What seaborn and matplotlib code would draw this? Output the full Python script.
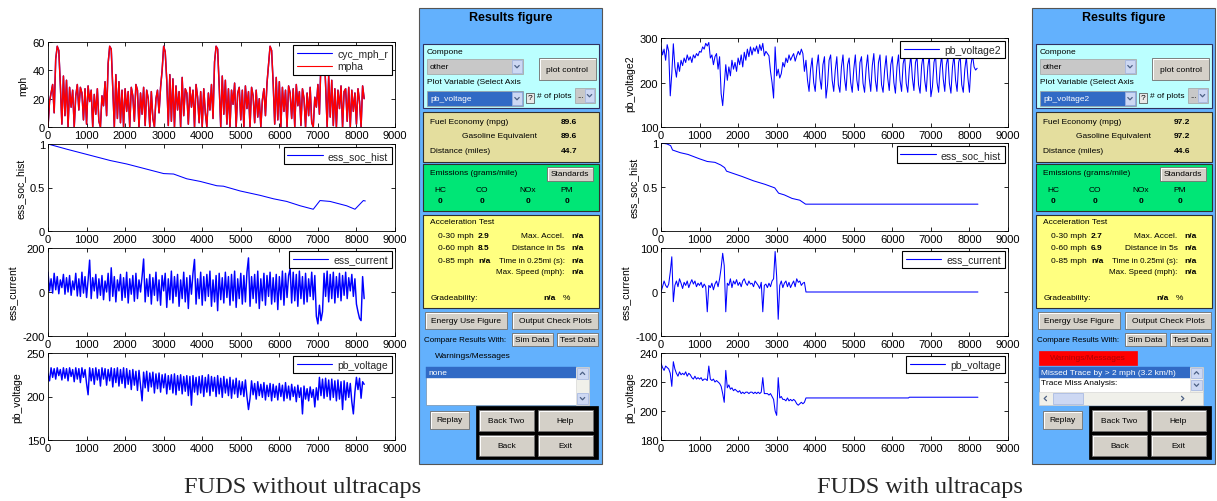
import numpy as np
import matplotlib
matplotlib.use("Agg")
import matplotlib.pyplot as plt
import seaborn as sns
from matplotlib.patches import Rectangle
from matplotlib.ticker import FuncFormatter

sns.set_theme(style="white")
plt.rcParams['font.family'] = ['Liberation Sans', 'DejaVu Sans']

# ---------------- data ----------------
time_40s = np.arange(0, 8201, 40)

mph_left = [
    0, 18, 24, 30, 10, 48, 57, 54, 30, 2, 36, 8, 33, 0, 28, 14, 26, 0, 22, 30, 12, 28, 24, 5, 27, 2, 29, 18, 26, 0, 23, 9, 27, 4,
    0, 22, 15, 32, 8, 45, 57, 55, 28, 0, 37, 6, 32, 3, 26, 0, 27, 11, 25, 0, 28, 22, 4, 30, 26, 0, 24, 9, 28, 1, 26, 20, 0, 25, 6,
    0, 20, 26, 10, 28, 40, 57, 53, 33, 1, 37, 4, 34, 0, 29, 12, 25, 0, 35, 8, 27, 24, 2, 28, 14, 26, 0, 30, 21, 3, 25, 0, 27, 10,
    0, 24, 12, 30, 6, 46, 57, 55, 29, 0, 36, 9, 33, 2, 27, 0, 26, 16, 31, 0, 24, 28, 5, 26, 0, 29, 13, 25, 0, 28, 22, 3, 26, 7, 20,
    0, 19, 27, 8, 31, 44, 57, 54, 31, 2, 35, 5, 32, 0, 28, 11, 26, 0, 29, 24, 6, 27, 0, 30, 15, 25, 1, 27, 20, 0, 24, 8, 28, 3,
    0, 21, 14, 30, 9, 47, 57, 55, 30, 0, 36, 7, 33, 1, 27, 0, 26, 13, 29, 0, 25, 27, 4, 28, 0, 26, 11, 24, 2, 27, 18, 0, 29, 20,
]

soc_left_t = [0, 490, 1010, 1615, 2045, 2480, 3000, 3256, 3600, 3947, 4380, 4550, 4985, 5500, 5850,
              6190, 6540, 6880, 7055, 7314, 7745, 7962, 8092, 8179, 8230]
soc_left = [1.0, 0.94, 0.88, 0.81, 0.77, 0.72, 0.66, 0.655, 0.60, 0.57, 0.52, 0.515, 0.46, 0.41, 0.37,
            0.34, 0.29, 0.25, 0.35, 0.34, 0.29, 0.25, 0.31, 0.35, 0.345]

current_left = [
    90, 5, 60, -5, 85, 10, 70, -8, 55, 20,
    80, -10, 65, 0, 75, -15, 50, 10, 85, -18,
    60, -20, 90, -5, 70, -25, 55, 145, -30, 65,
    5, 80, -28, 60, -15, 75, -35, 50, 0, 85,
    -40, 110, -20, 70, -45, 55, 5, 80, -38, 65,
    -25, 90, -50, 60, -10, 75, -42, 85, -30, 55,
    0, 70, 150, -45, 60, -20, 80, -55, 65, -15,
    90, -40, 55, -60, 75, 5, 85, -70, 60, -35,
    95, -50, 70, -20, 80, -65, 55, -30, 90, -45,
    65, -75, 75, -10, 85, 148, -55, 60, -30, 90,
    -60, 70, -40, 80, -20, 95, -65, 55, -45, 75,
    -85, 85, -35, 65, -50, 90, -25, 70, -60, 80,
    -40, 95, -70, 60, -30, 85, -55, 75, -45, 90,
    155, -65, 70, -30, 80, -50, 95, -75, 60, -40,
    85, -60, 75, -20, 90, -55, 65, -45, 80, -80,
    70, -35, 95, -60, 85, -25, 75, 105, -50, 90,
    -40, 80, -65, 95, -30, 70, -55, 85, -45, 60,
    -20, 90, -35, 75, -110, -145, -60, -130, -90, 85,
    -20, 95, -45, 80, -30, 90, -50, 70, -25, 85,
    -40, 75, -15, 90, -30, 65, 5, 80, -20, 60,
    -55, -90, -120, -130, 70, -30,
]

voltage_left = [
    226, 218, 233, 222, 232, 220, 233, 224, 231, 219,
    233, 221, 232, 218, 233, 223, 231, 217, 233, 220,
    232, 216, 233, 222, 231, 215, 202, 233, 218, 232,
    214, 233, 219, 231, 212, 233, 220, 232, 213, 231,
    218, 233, 211, 232, 216, 233, 212, 231, 215, 233,
    210, 232, 214, 230, 208, 231, 213, 229, 207, 230,
    212, 195, 228, 210, 229, 206, 227, 211, 228, 204,
    226, 209, 227, 205, 225, 210, 226, 203, 224, 208,
    225, 204, 226, 202, 224, 207, 225, 203, 223, 206,
    224, 201, 223, 190, 224, 205, 222, 202, 223, 204,
    224, 200, 222, 205, 225, 201, 223, 206, 222, 200,
    224, 203, 221, 199, 223, 204, 220, 201, 222, 198,
    219, 203, 221, 199, 218, 202, 217, 200, 219, 200,
    185, 198, 218, 202, 215, 197, 217, 201, 214, 199,
    216, 196, 213, 200, 215, 195, 214, 199, 212, 196,
    215, 200, 213, 195, 216, 198, 212, 196, 214, 200,
    211, 194, 213, 199, 210, 180, 212, 197, 209, 195,
    211, 199, 208, 188, 210, 196, 222, 201, 220, 198,
    221, 200, 219, 196, 220, 199, 218, 195, 219, 197,
    217, 185, 218, 196, 216, 199, 215, 194, 180, 205,
    222, 208, 221, 198, 217, 214,
]

voltage2_right = [
    282, 262, 275, 250, 285, 270, 170, 220, 287, 235,
    212, 245, 225, 250, 238, 255, 245, 262, 250, 258,
    245, 262, 255, 265, 260, 270, 268, 280, 275, 288,
    282, 290, 255, 262, 240, 258, 265, 230, 258, 175,
    148, 195, 240, 205, 235, 215, 250, 230, 245, 225,
    255, 240, 262, 235, 268, 250, 275, 258, 280, 262,
    278, 270, 282, 265, 285, 272, 288, 260, 270, 265,
    260, 225, 200, 165, 280, 215, 230, 210, 220, 245,
    235, 255, 245, 262, 250, 258, 265, 248, 260, 270,
    262, 275, 265, 225, 250, 205, 180, 230, 255, 200,
    180, 235, 262, 210, 185, 240, 258, 165, 195, 250,
    262, 205, 180, 228, 258, 195, 178, 235, 262, 210,
    182, 240, 255, 200, 178, 230, 262, 205, 182, 245,
    258, 198, 178, 232, 262, 210, 180, 238, 265, 205,
    180, 245, 262, 195, 178, 228, 260, 210, 182, 240,
    258, 200, 176, 235, 262, 205, 180, 242, 260, 198,
    178, 230, 262, 210, 182, 245, 258, 195, 176, 238,
    262, 205, 180, 235, 260, 168, 190, 245, 262, 200,
    178, 232, 262, 208, 180, 240, 258, 198, 176, 235,
    262, 205, 180, 245, 260, 195, 178, 230, 258, 210,
    178, 240, 262, 235, 228, 232,
]

soc_right_t = [0, 150, 250, 300, 500, 700, 1000, 1200, 1400, 1550, 1650, 1700, 1900, 2100,
               2400, 2700, 2950, 3050, 3200, 3400, 3600, 3750, 8220]
soc_right = [1.0, 0.99, 0.97, 0.92, 0.89, 0.87, 0.82, 0.79, 0.78, 0.75, 0.72, 0.68, 0.65, 0.62,
             0.57, 0.53, 0.49, 0.43, 0.41, 0.37, 0.35, 0.305, 0.305]

current_right_t = list(np.arange(0, 3761, 40)) + [8220]
current_right = [
    0, 12, 25, 15, 10, 18, 45, 80, -22, 15,
    25, 12, 30, 20, 8, 22, 15, 25, 10, 20,
    28, 18, 25, 12, 20, 15, 22, 10, 18, 12,
    -45, 15, 10, 20, 5, 18, 25, 12, 30, 55,
    88, 60, -45, 20, 15, 30, 10, 25, 18, 28,
    15, 22, 12, 25, 30, 20, 15, 25, 18, 20,
    12, 25, 20, 15, 8, 22, -45, 15, 18, 10,
    20, 12, 25, 30, 92, 35, -62, 15, 25, 10,
    20, 25, 12, 22, 10, 18, 25, 12, 30, 22,
    25, 15, 20, 22, 0,
    0,
]

voltage_right_t = list(np.arange(0, 3761, 40)) + [6420, 6440, 8220]
voltage_right = [
    233, 230, 228, 231, 230, 229, 226, 217, 234, 229,
    226, 224, 227, 225, 226, 225, 227, 224, 226, 225,
    223, 222, 224, 222, 223, 222, 223, 221, 222, 222,
    221, 231, 222, 221, 222, 220, 221, 220, 219, 217,
    212, 206, 228, 216, 218, 215, 216, 214, 215, 214,
    213, 214, 212, 213, 212, 213, 213, 212, 213, 213,
    212, 213, 212, 213, 212, 213, 223, 212, 212, 212,
    211, 212, 210, 208, 200, 197, 223, 209, 210, 208,
    208, 207, 209, 207, 208, 207, 208, 207, 205, 204,
    205, 206, 205, 206, 209,
    209, 209.5, 209.5,
]

# ---------------- figure ----------------
W, H = 1217, 502
fig = plt.figure(figsize=(W / 100, H / 100), dpi=100)
fig.patch.set_facecolor('white')

gui = fig.add_axes([0, 0, 1, 1])
gui.set_xlim(0, W)
gui.set_ylim(H, 0)
gui.axis('off')


def px_axes(x0, y0, x1, y1):
    return fig.add_axes([x0 / W, 1 - y1 / H, (x1 - x0) / W, (y1 - y0) / H])


fmt = FuncFormatter(lambda v, p: f'{v:g}')


def style(ax, ylim, yticks, ylabel):
    ax.set_facecolor('white')
    ax.set_xlim(0, 9000)
    ax.set_xticks(range(0, 9001, 1000))
    ax.set_ylim(*ylim)
    ax.set_yticks(yticks)
    ax.yaxis.set_major_formatter(fmt)
    ax.tick_params(direction='in', length=3, width=0.6, top=True, right=True,
                   labeltop=False, labelright=False, labelsize=8, pad=2,
                   colors='black', bottom=True, left=True)
    ax.set_xlabel('')
    ax.set_ylabel(ylabel, fontsize=7.5, labelpad=3, color='black')
    for s in ax.spines.values():
        s.set_visible(True)
        s.set_color('black')
        s.set_linewidth(0.6)


def legend(ax):
    leg = ax.legend(loc='upper right', fontsize=7.5, frameon=True, fancybox=False,
                    edgecolor='black', framealpha=1, handlelength=3.4,
                    borderpad=0.35, borderaxespad=0.3, labelspacing=0.25, handletextpad=0.5)
    leg.get_frame().set_linewidth(0.8)
    for line in leg.get_lines():
        line.set_linewidth(0.8)


BLUE, RED = '#0000ff', '#ff0000'
LW = 0.75
LWD = 1.05  # dense traces

# ---- left column ----
lx0, lx1 = 48, 395
ax = px_axes(lx0, 43, lx1, 128)
sns.lineplot(x=time_40s, y=mph_left, ax=ax, color=BLUE, lw=LWD, label='cyc_mph_r')
sns.lineplot(x=time_40s, y=mph_left, ax=ax, color=RED, lw=LWD, label='mpha')
style(ax, (0, 60), [0, 20, 40, 60], 'mph')
legend(ax)

ax = px_axes(lx0, 145, lx1, 232)
sns.lineplot(x=soc_left_t, y=soc_left, ax=ax, color=BLUE, lw=LW, label='ess_soc_hist')
style(ax, (0, 1), [0, 0.5, 1], 'ess_soc_hist')
legend(ax)

ax = px_axes(lx0, 249, lx1, 337)
sns.lineplot(x=time_40s, y=current_left, ax=ax, color=BLUE, lw=LWD, label='ess_current')
style(ax, (-200, 200), [-200, 0, 200], 'ess_current')
legend(ax)

ax = px_axes(lx0, 354, lx1, 441)
sns.lineplot(x=time_40s, y=voltage_left, ax=ax, color=BLUE, lw=LWD, label='pb_voltage')
style(ax, (150, 250), [150, 200, 250], 'pb_voltage')
legend(ax)

# ---- right column ----
rx0, rx1 = 661, 1008
ax = px_axes(rx0, 39, rx1, 128)
sns.lineplot(x=time_40s, y=voltage2_right, ax=ax, color=BLUE, lw=LW, label='pb_voltage2')
style(ax, (100, 300), [100, 200, 300], 'pb_voltage2')
legend(ax)

ax = px_axes(rx0, 144, rx1, 232)
sns.lineplot(x=soc_right_t, y=soc_right, ax=ax, color=BLUE, lw=LW, label='ess_soc_hist')
style(ax, (0, 1), [0, 0.5, 1], 'ess_soc_hist')
legend(ax)

ax = px_axes(rx0, 249, rx1, 337)
sns.lineplot(x=current_right_t, y=current_right, ax=ax, color=BLUE, lw=LW, label='ess_current')
style(ax, (-100, 100), [-100, 0, 100], 'ess_current')
legend(ax)

ax = px_axes(rx0, 354, rx1, 441)
sns.lineplot(x=voltage_right_t, y=voltage_right, ax=ax, color=BLUE, lw=LW, label='pb_voltage')
style(ax, (180, 240), [180, 200, 220, 240], 'pb_voltage')
legend(ax)

# ---------------- GUI panels ----------------
FS = 6.0
SEL = '#316ac5'


def draw_panel(dx, var_name, fe, ge, dist, t30, t60, right_variant):
    def R(x, y, w, h, fc, ec='#404040', lw=0.6, z=2):
        gui.add_patch(Rectangle((x + dx, y), w, h, facecolor=fc, edgecolor=ec, linewidth=lw, zorder=z))

    def T(x, y, s, ha='left', bold=False, color='black', fs=FS, z=6):
        gui.text(x + dx, y, s, ha=ha, va='center', fontsize=fs, color=color,
                 fontweight='bold' if bold else 'normal', zorder=z)

    def button(x, y, w, h, label):
        R(x, y, w, h, '#d4d0c8', ec='#707070', lw=0.6, z=3)
        gui.plot([x + dx + 0.8, x + dx + 0.8, x + dx + w - 0.8], [y + h - 0.8, y + 0.8, y + 0.8],
                 color='white', lw=0.7, zorder=4)
        T(x + w / 2, y + h / 2, label, ha='center')

    def arrow(x, y, w, h, direction='down'):
        R(x, y, w, h, '#cdd8f3', ec='#9fb3e0', lw=0.5, z=4)
        cx, cy = x + dx + w / 2, y + h / 2
        if direction == 'down':
            gui.plot([cx - 2.2, cx, cx + 2.2], [cy - 1.0, cy + 1.3, cy - 1.0], color='#4d6185', lw=0.9, zorder=5)
        elif direction == 'up':
            gui.plot([cx - 2.2, cx, cx + 2.2], [cy + 1.0, cy - 1.3, cy + 1.0], color='#4d6185', lw=0.9, zorder=5)
        elif direction == 'left':
            gui.plot([cx + 1.0, cx - 1.3, cx + 1.0], [cy - 2.2, cy, cy + 2.2], color='#4d6185', lw=0.9, zorder=5)
        else:
            gui.plot([cx - 1.0, cx + 1.3, cx - 1.0], [cy - 2.2, cy, cy + 2.2], color='#4d6185', lw=0.9, zorder=5)

    # outer panel
    R(419, 9, 183, 456, '#63b1fd', ec='#555555', lw=0.8, z=1)
    T(511, 18, 'Results figure', ha='center', bold=True, fs=9)

    # plot selection box
    R(423, 45, 176, 64, '#bbffff', ec='#303060', lw=0.8)
    T(427, 53, 'Compone')
    R(427, 60, 96, 15, '#c8c8c8', ec='#a0a0a0', lw=0.5, z=3)
    T(430, 67.5, 'other')
    arrow(512, 61, 10, 13)
    button(539, 59, 57, 22, 'plot control')
    T(427, 83, 'Plot Variable (Select Axis')
    R(427, 92, 96, 15, SEL, ec='#a0a0a0', lw=0.5, z=3)
    T(430, 99.5, var_name, color='white')
    arrow(512, 93, 10, 13)
    R(526, 94, 8, 10, '#e8e8e8', ec='#404040', lw=0.5, z=3)
    T(530, 99, '?', ha='center', fs=6)
    T(537, 96, '# of plots')
    R(575, 89, 20, 15, '#c8c8c8', ec='#a0a0a0', lw=0.5, z=3)
    T(577, 97, '...', fs=5.5)
    arrow(585, 90, 9, 13)

    # fuel economy box
    R(423, 113, 176, 50, '#e4de9e', ec='#303030', lw=0.8)
    T(430, 122, 'Fuel Economy (mpg)')
    T(569, 122, fe, ha='center', bold=True)
    T(500, 137, 'Gasoline Equivalent', ha='center')
    T(569, 137, ge, ha='center', bold=True)
    T(430, 152, 'Distance (miles)')
    T(569, 152, dist, ha='center', bold=True)

    # emissions box
    R(423, 165, 176, 47, '#00e676', ec='#303030', lw=0.8)
    T(430, 174, 'Emissions (grams/mile)')
    button(547, 168, 46, 14, 'Standards')
    for xc, lab in zip([440, 482, 528, 567], ['HC', 'CO', 'NOx', 'PM']):
        T(xc, 191, lab, ha='center')
        T(xc, 202, '0', ha='center', bold=True)

    # acceleration box
    R(423, 216, 176, 93, '#ffff80', ec='#303030', lw=0.8)
    T(430, 223, 'Acceleration Test')
    T(438, 237, '0-30 mph')
    T(478, 237, t30, bold=True)
    T(521, 237, 'Max. Accel.')
    T(571, 237, 'n/a', bold=True)
    T(438, 249, '0-60 mph')
    T(478, 249, t60, bold=True)
    T(512, 249, 'Distance in 5s')
    T(571, 249, 'n/a', bold=True)
    T(438, 262, '0-85 mph')
    T(478, 262, 'n/a', bold=True)
    T(499, 262, 'Time in 0.25mi (s):', fs=5.8)
    T(571, 262, 'n/a', bold=True)
    T(496, 273, 'Max. Speed (mph):', fs=5.8)
    T(571, 273, 'n/a', bold=True)
    T(431, 299, 'Gradeability:')
    T(543, 299, 'n/a', bold=True)
    T(563, 299, '%')

    button(425, 313, 82, 17, 'Energy Use Figure')
    button(512, 313, 86, 17, 'Output Check Plots')
    T(424, 341, 'Compare Results With:', fs=5.8)
    button(512, 334, 41, 13, 'Sim Data')
    button(557, 334, 41, 13, 'Test Data')

    if not right_variant:
        T(435, 357, 'Warnings/Messages')
        R(426, 368, 163, 38, 'white', ec='#7f9db9', lw=0.6, z=3)
        R(426, 368, 150, 11, SEL, ec=SEL, lw=0.3, z=4)
        T(428, 373.5, 'none', color='white')
        R(576, 368, 13, 38, '#f0f0ea', ec='#d0d0d0', lw=0.4, z=4)
        arrow(577, 369, 11, 11, 'up')
        arrow(577, 394, 11, 11, 'down')
    else:
        R(426, 352, 98, 14, '#ff0000', ec='#ff0000', lw=0.5, z=3)
        T(475, 359, 'Warnings/Messages', ha='center', color='#b00000')
        R(426, 368, 164, 38, 'white', ec='#7f9db9', lw=0.6, z=3)
        R(426, 368, 151, 11, SEL, ec=SEL, lw=0.3, z=4)
        T(428, 373.5, 'Missed Trace by > 2 mph (3.2 km/h)', color='white')
        T(428, 384, 'Trace Miss Analysis:')
        R(577, 368, 13, 25, '#f0f0ea', ec='#d0d0d0', lw=0.4, z=4)
        arrow(578, 369, 11, 10, 'up')
        arrow(578, 381, 11, 10, 'down')
        R(426, 393, 164, 13, '#f0f0ea', ec='#d0d0d0', lw=0.4, z=5)
        arrow(427, 394, 11, 11, 'left')
        arrow(564, 394, 11, 11, 'right')
        R(440, 394, 30, 11, '#cdd8f3', ec='#9fb3e0', lw=0.5, z=6)

    button(430, 412, 39, 18, 'Replay')
    R(476, 407, 122, 53, 'black', ec='black', lw=0.5, z=2)
    button(479, 411, 55, 21, 'Back Two')
    button(538, 411, 55, 21, 'Help')
    button(479, 436, 55, 21, 'Back')
    button(538, 436, 55, 21, 'Exit')


draw_panel(0, 'pb_voltage', '89.6', '89.6', '44.7', '2.9', '8.5', False)
draw_panel(613, 'pb_voltage2', '97.2', '97.2', '44.6', '2.7', '6.9', True)

# captions
gui.text(303, 488, 'FUDS without ultracaps', ha='center', va='center', fontsize=17.6,
         family=['Liberation Serif', 'DejaVu Serif'])
gui.text(920, 488, 'FUDS with ultracaps', ha='center', va='center', fontsize=17.6,
         family=['Liberation Serif', 'DejaVu Serif'])

fig.savefig('out.png', dpi=100, facecolor='white')
